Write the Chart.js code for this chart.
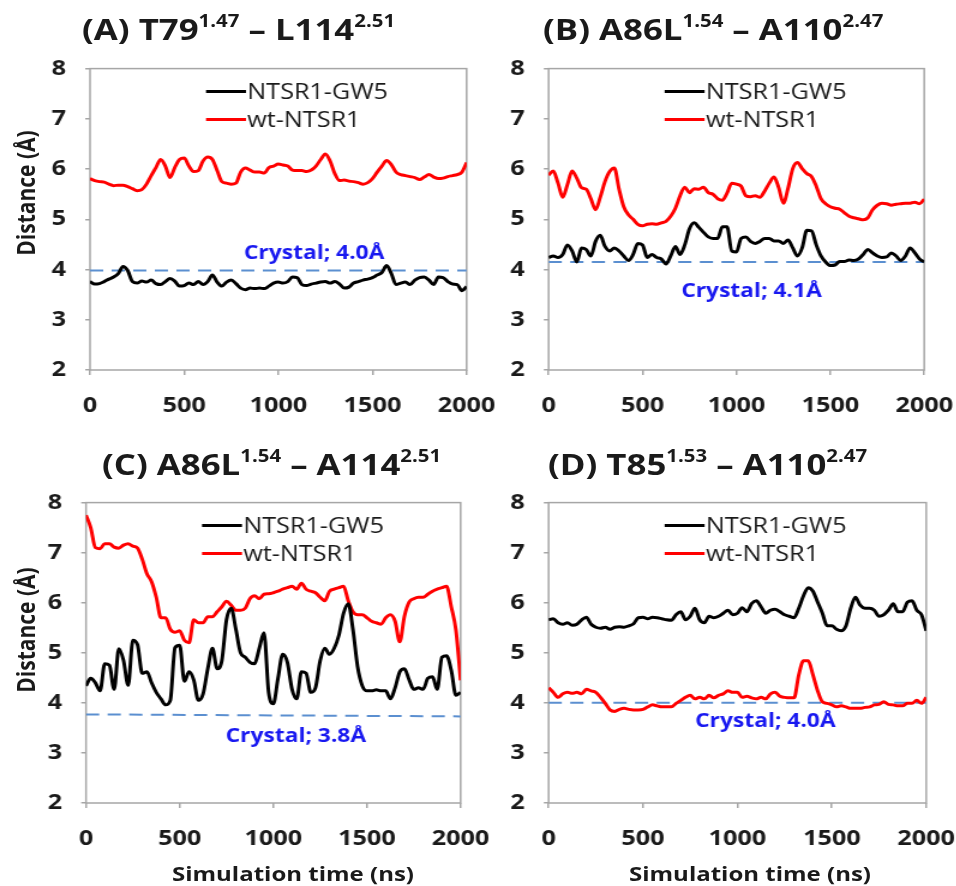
<!DOCTYPE html>
<html>
<head>
<meta charset="utf-8">
<script src="https://cdn.jsdelivr.net/npm/chart.js@4.4.1/dist/chart.umd.min.js"></script>
<style>
    html, body { margin: 0; padding: 0; background: #fff; overflow: hidden; }
    /* the source figure is stretched sideways, so draw narrow and widen */
    #page {
        position: relative; width: 797px; height: 886px;
        transform: scaleX(1.2); transform-origin: 0 0;
        font-family: "Open Sans", sans-serif; color: #1a1a1a;
    }
    .cell { position: absolute; }
    .ptitle { position: absolute; font-weight: 700; font-size: 29px; line-height: 29px; white-space: nowrap; }
    .ptitle .sup { font-size: 17px; line-height: 0; vertical-align: 13px; }
    .ytitle, .xtitle { position: absolute; font-weight: 700; white-space: nowrap; line-height: 1; }
    .ytitle { font-size: 21px; transform: translate(-50%, -50%) rotate(-90deg); }
    .xtitle { font-size: 20px; transform: translate(-50%, -50%); }
</style>
</head>
<body>
<div id="page"></div>
<script>
const SX = 1.2;

// time axis (ns), shared by every series
const simTime = [0, 25, 50, 75, 100, 125, 150, 175, 200, 225, 250, 275, 300, 325, 350, 375, 400, 425, 450, 475,
    500, 525, 550, 575, 600, 625, 650, 675, 700, 725, 750, 775, 800, 825, 850, 875, 900, 925, 950, 975,
    1000, 1025, 1050, 1075, 1100, 1125, 1150, 1175, 1200, 1225, 1250, 1275, 1300, 1325, 1350, 1375, 1400, 1425, 1450, 1475,
    1500, 1525, 1550, 1575, 1600, 1625, 1650, 1675, 1700, 1725, 1750, 1775, 1800, 1825, 1850, 1875, 1900, 1925, 1950, 1975, 2000];

const seriesNames = ["NTSR1-GW5", "wt-NTSR1"];

// (A) T79 - L114
const gw5A = [3.76, 3.71, 3.72, 3.76, 3.81, 3.85, 3.92, 4.06, 3.98, 3.76, 3.73, 3.77, 3.75, 3.79, 3.72, 3.70, 3.76, 3.82, 3.77, 3.67,
    3.68, 3.73, 3.70, 3.76, 3.70, 3.76, 3.89, 3.75, 3.67, 3.75, 3.79, 3.72, 3.63, 3.60, 3.63, 3.62, 3.63, 3.62, 3.67, 3.73,
    3.75, 3.73, 3.76, 3.85, 3.84, 3.70, 3.68, 3.71, 3.73, 3.75, 3.76, 3.73, 3.76, 3.71, 3.63, 3.65, 3.73, 3.76, 3.79, 3.81,
    3.84, 3.89, 3.94, 4.08, 3.92, 3.70, 3.73, 3.75, 3.70, 3.79, 3.84, 3.85, 3.79, 3.70, 3.85, 3.84, 3.76, 3.71, 3.70, 3.58, 3.66];
const wtA = [5.81, 5.77, 5.75, 5.74, 5.70, 5.67, 5.68, 5.68, 5.65, 5.61, 5.57, 5.59, 5.70, 5.87, 6.03, 6.19, 6.06, 5.83, 6.03, 6.19,
    6.22, 6.06, 5.95, 5.97, 6.16, 6.24, 6.19, 5.97, 5.75, 5.72, 5.70, 5.72, 5.94, 6.02, 5.98, 5.94, 5.94, 5.92, 6.03, 6.06,
    6.10, 6.08, 6.06, 5.98, 5.97, 5.97, 5.95, 5.98, 6.06, 6.19, 6.30, 6.16, 5.91, 5.77, 5.78, 5.76, 5.75, 5.73, 5.70, 5.73,
    5.81, 5.94, 6.06, 6.17, 6.09, 5.94, 5.89, 5.87, 5.85, 5.83, 5.79, 5.84, 5.89, 5.84, 5.81, 5.82, 5.85, 5.87, 5.89, 5.94, 6.13];

// (B) A86L - A110
const gw5B = [4.24, 4.27, 4.24, 4.30, 4.49, 4.37, 4.15, 4.43, 4.40, 4.27, 4.56, 4.68, 4.46, 4.37, 4.43, 4.37, 4.27, 4.18, 4.30, 4.52,
    4.49, 4.24, 4.30, 4.24, 4.21, 4.11, 4.27, 4.46, 4.30, 4.49, 4.81, 4.93, 4.84, 4.74, 4.65, 4.62, 4.62, 4.85, 4.85, 4.37,
    4.35, 4.62, 4.65, 4.56, 4.52, 4.56, 4.62, 4.62, 4.57, 4.57, 4.52, 4.59, 4.43, 4.27, 4.43, 4.78, 4.77, 4.49, 4.27, 4.15,
    4.08, 4.09, 4.16, 4.16, 4.19, 4.18, 4.21, 4.30, 4.40, 4.33, 4.27, 4.24, 4.25, 4.33, 4.27, 4.18, 4.27, 4.43, 4.33, 4.21, 4.15];
const wtB = [5.88, 5.96, 5.72, 5.44, 5.69, 5.96, 5.82, 5.63, 5.60, 5.41, 5.19, 5.44, 5.75, 5.95, 6.02, 5.60, 5.25, 5.09, 5.00, 4.90,
    4.87, 4.90, 4.91, 4.90, 4.93, 4.96, 5.06, 5.22, 5.47, 5.64, 5.53, 5.61, 5.60, 5.64, 5.53, 5.50, 5.41, 5.38, 5.52, 5.72,
    5.70, 5.66, 5.47, 5.45, 5.47, 5.44, 5.56, 5.72, 5.84, 5.63, 5.32, 5.62, 6.01, 6.13, 6.01, 5.91, 5.85, 5.66, 5.41, 5.31,
    5.25, 5.22, 5.20, 5.13, 5.06, 5.03, 5.01, 4.99, 5.03, 5.19, 5.28, 5.32, 5.31, 5.28, 5.30, 5.31, 5.32, 5.32, 5.34, 5.31, 5.40];

// (C) A86L - A114
const gw5C = [4.34, 4.49, 4.40, 4.24, 4.78, 4.75, 4.27, 5.08, 4.85, 4.35, 5.25, 5.16, 4.59, 4.62, 4.40, 4.21, 4.08, 3.96, 4.05, 5.10,
    5.15, 4.43, 4.62, 4.46, 4.05, 4.18, 4.68, 5.09, 4.68, 4.84, 5.66, 5.89, 5.47, 5.00, 4.91, 4.81, 4.78, 5.09, 5.40, 4.21,
    3.98, 4.49, 4.97, 4.81, 4.27, 4.08, 4.62, 4.59, 4.21, 4.30, 4.84, 5.09, 4.97, 5.09, 5.35, 5.79, 5.98, 5.47, 4.72, 4.34,
    4.24, 4.24, 4.26, 4.24, 4.24, 4.08, 4.30, 4.62, 4.68, 4.46, 4.27, 4.30, 4.27, 4.49, 4.52, 4.27, 4.91, 4.94, 4.65, 4.15, 4.21];
const wtC = [7.75, 7.50, 7.10, 7.08, 7.18, 7.18, 7.11, 7.09, 7.15, 7.18, 7.13, 7.09, 6.87, 6.58, 6.42, 6.11, 5.70, 5.70, 5.47, 5.41,
    5.44, 5.25, 5.20, 5.66, 5.60, 5.60, 5.72, 5.72, 5.82, 5.92, 6.03, 5.95, 5.85, 5.85, 5.89, 6.08, 6.14, 6.08, 6.17, 6.18,
    6.20, 6.23, 6.27, 6.30, 6.33, 6.27, 6.39, 6.27, 6.23, 6.20, 6.11, 6.04, 6.23, 6.27, 6.30, 6.33, 6.04, 5.82, 5.76, 5.76,
    5.70, 5.63, 5.60, 5.57, 5.70, 5.76, 5.63, 5.22, 5.73, 6.01, 6.08, 6.11, 6.11, 6.17, 6.23, 6.27, 6.30, 6.33, 5.92, 5.45, 4.45];

// (D) T85 - A110
const gw5D = [5.66, 5.68, 5.60, 5.57, 5.60, 5.55, 5.57, 5.66, 5.71, 5.57, 5.51, 5.49, 5.51, 5.47, 5.51, 5.52, 5.51, 5.54, 5.58, 5.70,
    5.71, 5.68, 5.71, 5.70, 5.68, 5.66, 5.65, 5.76, 5.82, 5.66, 5.73, 5.89, 5.66, 5.60, 5.73, 5.70, 5.73, 5.79, 5.85, 5.76,
    5.79, 5.90, 5.82, 5.98, 6.04, 5.92, 5.79, 5.85, 5.87, 5.82, 5.76, 5.73, 5.70, 5.89, 6.14, 6.30, 6.23, 6.01, 5.79, 5.54,
    5.54, 5.47, 5.44, 5.54, 5.89, 6.11, 5.95, 5.89, 5.89, 5.85, 5.73, 5.76, 5.85, 5.98, 5.82, 5.82, 6.01, 6.04, 5.85, 5.76, 5.44];
const wtD = [4.30, 4.21, 4.11, 4.18, 4.21, 4.19, 4.21, 4.18, 4.27, 4.24, 4.21, 4.11, 3.99, 3.86, 3.83, 3.87, 3.89, 3.87, 3.86, 3.86,
    3.87, 3.92, 3.96, 3.94, 3.92, 3.92, 3.92, 3.99, 4.05, 4.11, 4.15, 4.08, 4.11, 4.08, 4.15, 4.10, 4.15, 4.18, 4.24, 4.21,
    4.21, 4.11, 4.13, 4.10, 4.08, 4.11, 4.08, 4.18, 4.21, 4.13, 4.11, 4.10, 4.10, 4.56, 4.84, 4.84, 4.56, 4.24, 4.02, 3.99,
    3.96, 3.92, 3.94, 3.92, 3.89, 3.89, 3.89, 3.91, 3.92, 3.96, 3.97, 4.02, 3.97, 3.96, 3.94, 3.94, 3.99, 3.99, 4.05, 3.99, 4.11];

// crystal reference distance, at t = 0 and t = 2000
const crystalA = [3.98, 3.98];
const crystalB = [4.15, 4.15];
const crystalC = [3.77, 3.73];
const crystalD = [4.00, 4.00];
const crystalText = ["Crystal; 4.0Å", "Crystal; 4.1Å", "Crystal; 3.8Å", "Crystal; 4.0Å"];

const panelTitles = [
    ["(A) T79", "1.47", " – L114", "2.51"],
    ["(B) A86L", "1.54", " – A110", "2.47"],
    ["(C) A86L", "1.54", " – A114", "2.51"],
    ["(D) T85", "1.53", " – A110", "2.47"]
];

const xTicks = [0, 500, 1000, 1500, 2000];
const yTicks = [2, 3, 4, 5, 6, 7, 8];
const xTitle = "Simulation time (ns)";
const yTitle = "Distance (Å)";

// page-pixel layout of each panel
const cells = [
    { gw5: gw5A, wt: wtA, crystal: crystalA, box: { x: 0, y: 40, w: 520, h: 390 }, area: { l: 90, t: 53, r: 467, b: 370 },
      title: [82, 40], note: [1190, 4.31], yLabel: [26, 193] },
    { gw5: gw5B, wt: wtB, crystal: crystalB, box: { x: 478, y: 40, w: 520, h: 390 }, area: { l: 549, t: 53, r: 925, b: 370 },
      title: [543, 40], note: [1080, 3.57] },
    { gw5: gw5C, wt: wtC, crystal: crystalC, box: { x: 0, y: 474, w: 520, h: 412 }, area: { l: 86, t: 487, r: 461, b: 803 },
      title: [102, 475], note: [1120, 3.33], yLabel: [26, 630], xLabel: [293, 874] },
    { gw5: gw5D, wt: wtD, crystal: crystalD, box: { x: 478, y: 474, w: 520, h: 412 }, area: { l: 549, t: 487, r: 927, b: 803 },
      title: [548, 475], note: [1148, 3.63], xLabel: [750, 874] }
];

Chart.defaults.font.family = '"Open Sans", sans-serif';
Chart.defaults.color = "#1a1a1a";

const frame = {
    id: "frame",
    beforeDatasetsDraw(chart) {
        const { ctx, chartArea: a } = chart;
        ctx.save();
        ctx.strokeStyle = "#a6a6a6";
        ctx.lineWidth = 1.5;
        ctx.strokeRect(a.left, a.top, a.width, a.height);
        ctx.restore();
    }
};

const seriesKey = {
    id: "seriesKey",
    afterDatasetsDraw(chart) {
        const { ctx, chartArea: a } = chart;
        const x0 = a.left + 116 / SX, len = 40 / SX;
        ctx.save();
        ctx.font = '21px "Open Sans"';
        ctx.textBaseline = "middle";
        seriesNames.forEach((name, k) => {
            const y = a.top + 23 + k * 28;
            ctx.strokeStyle = chart.data.datasets[k].borderColor;
            ctx.lineWidth = 3;
            ctx.beginPath();
            ctx.moveTo(x0, y);
            ctx.lineTo(x0 + len, y);
            ctx.stroke();
            ctx.fillStyle = "#1a1a1a";
            ctx.fillText(name, x0 + len + 1, y + 1);
        });
        ctx.restore();
    }
};

const crystalNote = {
    id: "crystalNote",
    afterDatasetsDraw(chart, args, opts) {
        const { ctx, scales } = chart;
        ctx.save();
        ctx.font = 'bold 19px "Open Sans"';
        ctx.fillStyle = "#1818f0";
        ctx.textAlign = "center";
        ctx.textBaseline = "middle";
        ctx.fillText(opts.text, scales.x.getPixelForValue(opts.at[0]), scales.y.getPixelForValue(opts.at[1]));
        ctx.restore();
    }
};

const page = document.getElementById("page");

function addText(cls, html, x, y) {
    const el = document.createElement("div");
    el.className = cls;
    el.innerHTML = html;
    el.style.left = (x / SX) + "px";
    el.style.top = y + "px";
    page.appendChild(el);
}

cells.forEach((c, i) => {
    const t = panelTitles[i];
    addText("ptitle", `${t[0]}<span class="sup">${t[1]}</span>${t[2]}<span class="sup">${t[3]}</span>`, c.title[0], c.title[1] - 26);
    if (c.yLabel) addText("ytitle", yTitle, c.yLabel[0], c.yLabel[1]);
    if (c.xLabel) addText("xtitle", xTitle, c.xLabel[0], c.xLabel[1]);

    const cell = document.createElement("div");
    cell.className = "cell";
    const w = c.box.w / SX;
    cell.style.left = (c.box.x / SX) + "px";
    cell.style.top = c.box.y + "px";
    const canvas = document.createElement("canvas");
    canvas.width = w;
    canvas.height = c.box.h;
    cell.appendChild(canvas);
    page.appendChild(cell);

    const pts = arr => simTime.map((x, k) => ({ x: x, y: arr[k] }));

    new Chart(canvas, {
        type: "line",
        data: {
            datasets: [
                { label: seriesNames[0], data: pts(c.gw5), borderColor: "#000000", borderWidth: 3,
                  pointRadius: 0, cubicInterpolationMode: "monotone" },
                { label: seriesNames[1], data: pts(c.wt), borderColor: "#ff0000", borderWidth: 3,
                  pointRadius: 0, cubicInterpolationMode: "monotone" },
                { label: "crystal", data: [{ x: xTicks[0], y: c.crystal[0] }, { x: xTicks[xTicks.length - 1], y: c.crystal[1] }],
                  borderColor: "#5b8fd0", borderWidth: 2, borderDash: [11, 7], pointRadius: 0 }
            ]
        },
        options: {
            responsive: false,
            animation: false,
            layout: {
                padding: { left: 0, top: c.area.t - c.box.y, right: (c.box.x + c.box.w - c.area.r) / SX, bottom: 0 }
            },
            plugins: {
                legend: { display: false },
                tooltip: { enabled: false },
                crystalNote: { text: crystalText[i], at: c.note }
            },
            scales: {
                x: {
                    type: "linear", min: 0, max: 2000,
                    afterBuildTicks: s => { s.ticks = xTicks.map(v => ({ value: v })); },
                    afterFit: s => { s.height = c.box.y + c.box.h - c.area.b; },
                    grid: { drawOnChartArea: false, tickLength: 5, color: "#a6a6a6", lineWidth: 1.5 },
                    border: { display: false },
                    ticks: { maxRotation: 0, padding: 18, font: { size: 21, weight: "bold" }, callback: v => String(v) }
                },
                y: {
                    type: "linear", min: 2, max: 8,
                    afterBuildTicks: s => { s.ticks = yTicks.map(v => ({ value: v })); },
                    afterFit: s => { s.width = (c.area.l - c.box.x) / SX; },
                    grid: { drawOnChartArea: false, tickLength: 4, color: "#a6a6a6", lineWidth: 1.5 },
                    border: { display: false },
                    ticks: { padding: 16, font: { size: 21, weight: "bold" }, callback: v => String(v) }
                }
            }
        },
        plugins: [frame, seriesKey, crystalNote]
    });
});
</script>
</body>
</html>
